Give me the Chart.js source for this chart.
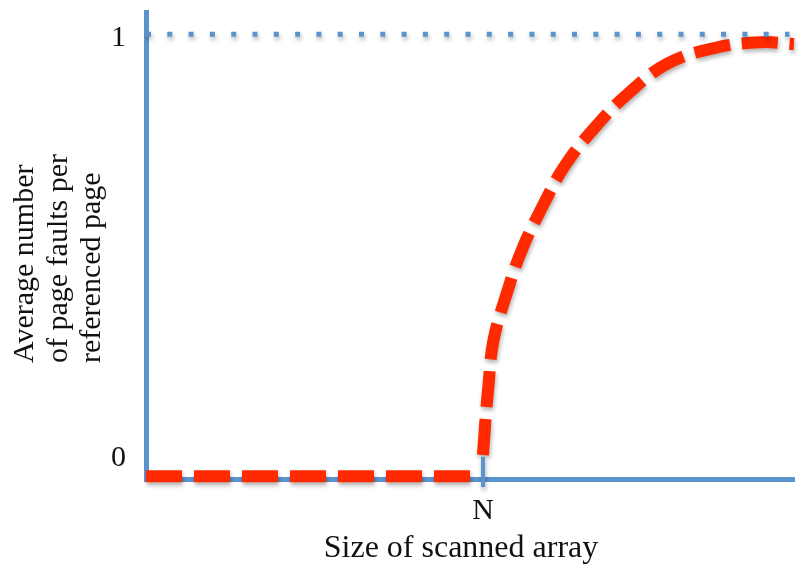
<!DOCTYPE html>
<html>
<head>
<meta charset="utf-8">
<script src="https://cdn.jsdelivr.net/npm/chart.js@4.4.1/dist/chart.umd.min.js"></script>
<style>
  html, body { margin: 0; padding: 0; background: #ffffff; }
  #wrap { width: 804px; height: 569px; position: relative; }
</style>
</head>
<body>
<div id="wrap"><canvas id="faultChart"></canvas></div>
<script>
// Data (x: 0..100 along the axis, y: fault ratio)
const flatX = [0, 50];
const flatY = [0.006, 0.006];
const curveX = [52.0, 52.2, 52.4, 52.8, 53.6, 55.6, 58.0, 61.3, 64.7, 69.3, 74.5, 80.6, 87.7, 94.8, 100];
const curveY = [0.054, 0.094, 0.135, 0.202, 0.310, 0.414, 0.515, 0.616, 0.706, 0.791, 0.868, 0.935, 0.969, 0.982, 0.978];
const limitX = [0, 99.3];
const limitY = [1, 1];
const markX = [52, 52];
const markY = [-0.018, 0.05];

const xTickValues = [52];
const xTickLabels = ['N'];
const yTickValues = [0.046, 0.991];
const yTickLabels = ['0', '1'];
const xTitle = 'Size of scanned array';
const yTitleLines = ['Average number', 'of page faults per', 'referenced page'];

const BLUE = '#5b93cc';
const RED = '#ff2a00';
const FONT = "'Liberation Serif', 'Times New Roman', serif";

function toPoints(xs, ys) {
  return xs.map((x, i) => ({ x: x, y: ys[i] }));
}

// Soft drop shadow under the drawn lines, like the original slide
const shadowPlugin = {
  id: 'shadow',
  beforeDatasetsDraw(chart) {
    const ctx = chart.ctx;
    ctx.save();
    ctx.shadowColor = 'rgba(0, 0, 0, 0.3)';
    ctx.shadowBlur = 4;
    ctx.shadowOffsetX = 1;
    ctx.shadowOffsetY = 3;
  },
  afterDatasetsDraw(chart) {
    chart.ctx.restore();
  }
};

// Axis titles: x title a bit left of centre, y title as three rotated lines
const titlePlugin = {
  id: 'axisTitles',
  afterDraw(chart) {
    const ctx = chart.ctx;
    ctx.save();
    ctx.fillStyle = '#111111';
    ctx.textBaseline = 'alphabetic';

    ctx.font = '32px ' + FONT;
    ctx.textAlign = 'center';
    ctx.fillText(xTitle, 461, 557);

    ctx.font = '30px ' + FONT;
    ctx.textAlign = 'left';
    const baselines = [33, 66.5, 100];
    yTitleLines.forEach((line, i) => {
      ctx.save();
      ctx.translate(baselines[i], 363);
      ctx.rotate(-Math.PI / 2);
      ctx.fillText(line, 0, 0);
      ctx.restore();
    });
    ctx.restore();
  }
};

const ctx = document.getElementById('faultChart').getContext('2d');

new Chart(ctx, {
  type: 'line',
  data: {
    datasets: [
      {
        data: toPoints(limitX, limitY),
        borderColor: BLUE,
        borderWidth: 5,
        borderDash: [5, 16.3],
        borderCapStyle: 'butt',
        pointRadius: 0,
        clip: false
      },
      {
        data: toPoints(markX, markY),
        borderColor: BLUE,
        borderWidth: 4,
        pointRadius: 0,
        clip: false
      },
      {
        data: toPoints(flatX, flatY),
        borderColor: RED,
        borderWidth: 12,
        borderDash: [36, 12],
        borderCapStyle: 'butt',
        pointRadius: 0,
        clip: false
      },
      {
        data: toPoints(curveX, curveY),
        borderColor: RED,
        borderWidth: 12,
        borderDash: [36, 12],
        borderCapStyle: 'butt',
        tension: 0.4,
        pointRadius: 0,
        clip: false
      }
    ]
  },
  options: {
    responsive: true,
    maintainAspectRatio: false,
    animation: false,
    layout: {
      padding: { top: 12, right: 10, left: 0, bottom: 0 }
    },
    plugins: {
      legend: { display: false },
      tooltip: { enabled: false }
    },
    scales: {
      x: {
        type: 'linear',
        min: 0,
        max: 100,
        afterFit: function (scale) {
          scale.height = 90;
          scale.paddingLeft = 0;
          scale.paddingRight = 0;
        },
        afterBuildTicks: function (scale) {
          scale.ticks = xTickValues.map(v => ({ value: v }));
        },
        grid: { display: false, drawTicks: false },
        border: { display: true, color: BLUE, width: 5 },
        ticks: {
          autoSkip: false,
          maxRotation: 0,
          padding: 14,
          color: '#111111',
          font: { family: FONT, size: 30 },
          callback: function (value) {
            const i = xTickValues.indexOf(value);
            return i >= 0 ? xTickLabels[i] : '';
          }
        }
      },
      y: {
        type: 'linear',
        min: 0,
        max: 1.05,
        afterFit: function (scale) {
          scale.width = 146;
          scale.paddingTop = 0;
          scale.paddingBottom = 0;
        },
        afterBuildTicks: function (scale) {
          scale.ticks = yTickValues.map(v => ({ value: v }));
        },
        grid: { display: false, drawTicks: false },
        border: { display: true, color: BLUE, width: 5 },
        ticks: {
          autoSkip: false,
          padding: 20,
          color: '#111111',
          font: { family: FONT, size: 30 },
          callback: function (value) {
            const i = yTickValues.indexOf(value);
            return i >= 0 ? yTickLabels[i] : '';
          }
        }
      }
    }
  },
  plugins: [shadowPlugin, titlePlugin]
});
</script>
</body>
</html>
